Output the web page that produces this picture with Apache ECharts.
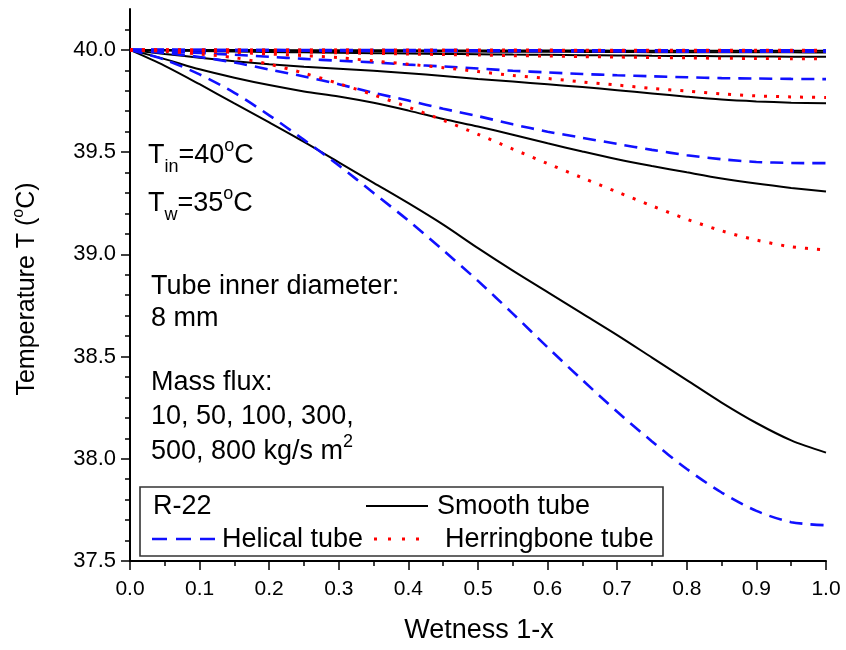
<!DOCTYPE html>
<html>
<head>
<meta charset="utf-8">
<script src="https://cdn.jsdelivr.net/npm/echarts@6/dist/echarts.min.js"></script>
<style>
  html, body { margin: 0; padding: 0; background: #fff; }
  #chart { width: 846px; height: 650px; }
</style>
</head>
<body>
<div id="chart"></div>
<script>
// Wetness 1-x (shared abscissa of every curve)
const wetness = [0, 0.05, 0.1, 0.15, 0.2, 0.25, 0.3, 0.35, 0.4, 0.45, 0.5,
                 0.55, 0.6, 0.65, 0.7, 0.75, 0.8, 0.85, 0.9, 0.95, 1.0];

// Refrigerant temperature (°C), smooth tube, by mass flux (kg/s m2)
const smooth10  = [40.000, 39.922, 39.832, 39.738, 39.645, 39.550, 39.450, 39.350, 39.250, 39.145, 39.030,
                   38.920, 38.815, 38.710, 38.605, 38.495, 38.385, 38.275, 38.175, 38.090, 38.030];
const smooth50  = [40.000, 39.955, 39.905, 39.864, 39.828, 39.797, 39.772, 39.741, 39.703, 39.662, 39.625,
                   39.585, 39.543, 39.503, 39.465, 39.432, 39.401, 39.371, 39.346, 39.325, 39.307];
const smooth100 = [40.000, 39.980, 39.962, 39.945, 39.930, 39.918, 39.908, 39.898, 39.886, 39.872, 39.858,
                   39.845, 39.832, 39.818, 39.803, 39.787, 39.771, 39.757, 39.748, 39.742, 39.739];
const smooth300 = [40.000, 39.997, 39.994, 39.992, 39.990, 39.988, 39.986, 39.984, 39.982, 39.980, 39.979,
                   39.977, 39.976, 39.974, 39.973, 39.971, 39.970, 39.969, 39.968, 39.967, 39.966];
const smooth500 = [40.000, 39.999, 39.998, 39.997, 39.996, 39.995, 39.994, 39.994, 39.993, 39.992, 39.992,
                   39.991, 39.991, 39.990, 39.990, 39.989, 39.989, 39.988, 39.988, 39.988, 39.987];
const smooth800 = [40.000, 40.000, 39.999, 39.999, 39.999, 39.998, 39.998, 39.998, 39.998, 39.997, 39.997,
                   39.997, 39.997, 39.997, 39.996, 39.996, 39.996, 39.996, 39.996, 39.996, 39.996];

// Helical tube
const helical10  = [40.000, 39.952, 39.880, 39.790, 39.680, 39.560, 39.435, 39.300, 39.165, 39.020, 38.870,
                    38.710, 38.545, 38.385, 38.230, 38.085, 37.950, 37.835, 37.745, 37.690, 37.675];
const helical50  = [40.000, 39.985, 39.965, 39.938, 39.904, 39.870, 39.832, 39.790, 39.752, 39.712, 39.676,
                    39.636, 39.600, 39.570, 39.540, 39.511, 39.485, 39.465, 39.452, 39.447, 39.446];
const helical100 = [40.000, 39.993, 39.985, 39.976, 39.966, 39.956, 39.947, 39.939, 39.928, 39.919, 39.909,
                    39.898, 39.890, 39.882, 39.876, 39.871, 39.866, 39.862, 39.860, 39.858, 39.857];
const helical300 = [40.000, 39.999, 39.998, 39.997, 39.997, 39.996, 39.995, 39.995, 39.994, 39.994, 39.993,
                    39.993, 39.993, 39.992, 39.992, 39.992, 39.991, 39.991, 39.991, 39.991, 39.991];
const helical500 = [40.000, 40.000, 39.999, 39.999, 39.999, 39.998, 39.998, 39.998, 39.998, 39.997, 39.997,
                    39.997, 39.997, 39.997, 39.997, 39.996, 39.996, 39.996, 39.996, 39.996, 39.996];
const helical800 = [40.000, 40.000, 40.000, 39.999, 39.999, 39.999, 39.999, 39.999, 39.999, 39.999, 39.998,
                    39.998, 39.998, 39.998, 39.998, 39.998, 39.998, 39.998, 39.998, 39.998, 39.998];

// Herringbone tube
const herringbone50  = [40.000, 39.993, 39.980, 39.962, 39.930, 39.886, 39.835, 39.780, 39.720, 39.656, 39.587,
                        39.515, 39.444, 39.374, 39.305, 39.237, 39.172, 39.115, 39.070, 39.037, 39.022];
const herringbone100 = [40.000, 39.998, 39.994, 39.988, 39.980, 39.972, 39.962, 39.946, 39.930, 39.913, 39.894,
                        39.875, 39.860, 39.843, 39.828, 39.811, 39.799, 39.785, 39.775, 39.770, 39.767];
const herringbone300 = [40.000, 39.999, 39.997, 39.995, 39.992, 39.989, 39.986, 39.983, 39.980, 39.977, 39.975,
                        39.972, 39.970, 39.967, 39.965, 39.963, 39.961, 39.959, 39.958, 39.957, 39.956];
const herringbone500 = [40.000, 40.000, 39.999, 39.999, 39.998, 39.998, 39.998, 39.997, 39.997, 39.997, 39.996,
                        39.996, 39.996, 39.996, 39.995, 39.995, 39.995, 39.995, 39.995, 39.995, 39.995];
const herringbone800 = [40.000, 40.000, 40.000, 40.000, 39.999, 39.999, 39.999, 39.999, 39.999, 39.999, 39.999,
                        39.999, 39.999, 39.998, 39.998, 39.998, 39.998, 39.998, 39.998, 39.998, 39.998];

// Labelled ticks of the temperature axis
const tempTicks = [37.5, 38.0, 38.5, 39.0, 39.5, 40.0];

const FONT = '"Liberation Sans", Arial, Helvetica, sans-serif';
const INK = '#000000';
const BLUE = '#1010ff';
const RED = '#ff0000';

// ---- text helpers: runs of text with sub/superscripts placed on a baseline ----
const measureCtx = document.createElement('canvas').getContext('2d');
function textWidth(t, size) {
  measureCtx.font = size + 'px ' + FONT;
  return measureCtx.measureText(t).width;
}
function runWidth(parts) {
  return parts.reduce((w, p) => w + textWidth(p.t, p.size), 0);
}
// parts: [{t, size, dy}] ; dy shifts the baseline (positive = down)
function textRun(x, baseline, parts) {
  const out = [];
  let cx = x;
  parts.forEach(p => {
    out.push({
      type: 'text',
      x: cx,
      y: baseline + (p.dy || 0) - 0.3465 * p.size,
      silent: true,
      style: {
        text: p.t,
        font: p.size + 'px ' + FONT,
        fill: INK,
        textAlign: 'left', align: 'left',
        textVerticalAlign: 'middle', verticalAlign: 'middle'
      }
    });
    cx += textWidth(p.t, p.size);
  });
  return out;
}

const BIG = 27, SMALL = 18;

// ---- series ----
const curves = [
  { name: 'Smooth tube', data: smooth800, kind: 'smooth' },
  { name: 'Smooth tube', data: smooth500, kind: 'smooth' },
  { name: 'Smooth tube', data: smooth300, kind: 'smooth' },
  { name: 'Smooth tube', data: smooth100, kind: 'smooth' },
  { name: 'Smooth tube', data: smooth50,  kind: 'smooth' },
  { name: 'Smooth tube', data: smooth10,  kind: 'smooth' },
  { name: 'Helical tube', data: helical800, kind: 'helical' },
  { name: 'Helical tube', data: helical500, kind: 'helical' },
  { name: 'Helical tube', data: helical300, kind: 'helical' },
  { name: 'Helical tube', data: helical100, kind: 'helical' },
  { name: 'Helical tube', data: helical50,  kind: 'helical' },
  { name: 'Helical tube', data: helical10,  kind: 'helical' },
  { name: 'Herringbone tube', data: herringbone800, kind: 'herringbone' },
  { name: 'Herringbone tube', data: herringbone500, kind: 'herringbone' },
  { name: 'Herringbone tube', data: herringbone300, kind: 'herringbone' },
  { name: 'Herringbone tube', data: herringbone100, kind: 'herringbone' },
  { name: 'Herringbone tube', data: herringbone50,  kind: 'herringbone' }
];

const styles = {
  smooth:      { color: INK,  width: 2,   type: 'solid' },
  helical:     { color: BLUE, width: 2.6, type: [13, 8] },
  herringbone: { color: RED,  width: 3,   type: [3, 9] }
};

const series = curves.map(c => ({
  name: c.name,
  type: 'line',
  data: wetness.map((x, i) => [x, c.data[i]]),
  smooth: 0.3,
  showSymbol: false,
  symbol: 'none',
  silent: true,
  lineStyle: Object.assign({ cap: 'butt' }, styles[c.kind])
}));

// ---- annotations ----
const graphics = [];

// T_in = 40 °C
graphics.push(...textRun(148, 165, [
  { t: 'T', size: BIG }, { t: 'in', size: SMALL, dy: 8 },
  { t: '=40', size: BIG }, { t: 'o', size: SMALL, dy: -13 }, { t: 'C', size: BIG }
]));
// T_w = 35 °C
graphics.push(...textRun(148, 213, [
  { t: 'T', size: BIG }, { t: 'w', size: SMALL, dy: 8 },
  { t: '=35', size: BIG }, { t: 'o', size: SMALL, dy: -13 }, { t: 'C', size: BIG }
]));
graphics.push(...textRun(151, 296, [{ t: 'Tube inner diameter:', size: BIG }]));
graphics.push(...textRun(151, 328, [{ t: '8 mm', size: BIG }]));
graphics.push(...textRun(151, 392, [{ t: 'Mass flux:', size: BIG }]));
graphics.push(...textRun(151, 426, [{ t: '10, 50, 100, 300,', size: BIG }]));
graphics.push(...textRun(151, 461, [
  { t: '500, 800 kg/s m', size: BIG }, { t: '2', size: SMALL, dy: -13 }
]));

// Axis titles
const yTitleParts = [
  { t: 'Temperature T (', size: 25 }, { t: 'o', size: 16, dy: -12 }, { t: 'C)', size: 25 }
];
const yTitleW = runWidth(yTitleParts);
graphics.push({
  type: 'group',
  x: 36,
  y: 289 + yTitleW / 2,
  rotation: Math.PI / 2,
  children: textRun(0, 0, yTitleParts)
});
const xTitleParts = [{ t: 'Wetness 1-x', size: BIG }];
graphics.push(...textRun(479 - runWidth(xTitleParts) / 2, 640, xTitleParts));

// Legend box
graphics.push({
  type: 'rect',
  shape: { x: 140, y: 487, width: 523, height: 69 },
  silent: true,
  style: { fill: '#fff', stroke: '#333', lineWidth: 1.6 }
});
graphics.push(...textRun(153, 516, [{ t: 'R-22', size: BIG }]));
graphics.push({
  type: 'line', silent: true,
  shape: { x1: 366, y1: 506, x2: 428, y2: 506 },
  style: { stroke: INK, lineWidth: 2 }
});
graphics.push(...textRun(437, 516, [{ t: 'Smooth tube', size: BIG }]));
graphics.push({
  type: 'line', silent: true,
  shape: { x1: 152, y1: 539, x2: 217, y2: 539 },
  style: { stroke: BLUE, lineWidth: 2.6, lineDash: [15, 9] }
});
graphics.push(...textRun(222, 549, [{ t: 'Helical tube', size: BIG }]));
graphics.push({
  type: 'line', silent: true,
  shape: { x1: 374, y1: 539, x2: 430, y2: 539 },
  style: { stroke: RED, lineWidth: 3, lineDash: [3, 11] }
});
graphics.push(...textRun(445, 549, [{ t: 'Herringbone tube', size: BIG }]));

const axisLineStyle = { color: INK, width: 2 };
const tickStyle = { color: INK, width: 1.5 };

const option = {
  animation: false,
  backgroundColor: '#ffffff',
  grid: { left: 130, right: 20, top: 9, bottom: 89, containLabel: false },
  xAxis: {
    type: 'value',
    min: 0, max: 1, interval: 0.1,
    axisLine: { show: true, onZero: false, lineStyle: axisLineStyle },
    axisTick: { show: true, inside: false, length: 9, lineStyle: tickStyle },
    minorTick: { show: true, splitNumber: 2, length: 5, lineStyle: tickStyle },
    splitLine: { show: false },
    axisLabel: {
      formatter: v => v.toFixed(1),
      fontFamily: FONT, fontSize: 21, color: INK, margin: 18
    }
  },
  yAxis: {
    type: 'value',
    min: 37.5, max: 40.2, interval: 0.5,
    axisLine: { show: true, onZero: false, lineStyle: axisLineStyle },
    axisTick: { show: true, inside: false, length: 9, lineStyle: tickStyle, customValues: tempTicks },
    minorTick: { show: true, splitNumber: 5, length: 5, lineStyle: tickStyle },
    splitLine: { show: false },
    axisLabel: {
      customValues: tempTicks,
      formatter: v => Number(v).toFixed(1),
      fontFamily: FONT, fontSize: 22, color: INK, margin: 14
    }
  },
  series: series,
  graphic: { elements: graphics }
};

const chart = echarts.init(document.getElementById('chart'), null, { renderer: 'canvas' });
chart.setOption(option);
</script>
</body>
</html>
